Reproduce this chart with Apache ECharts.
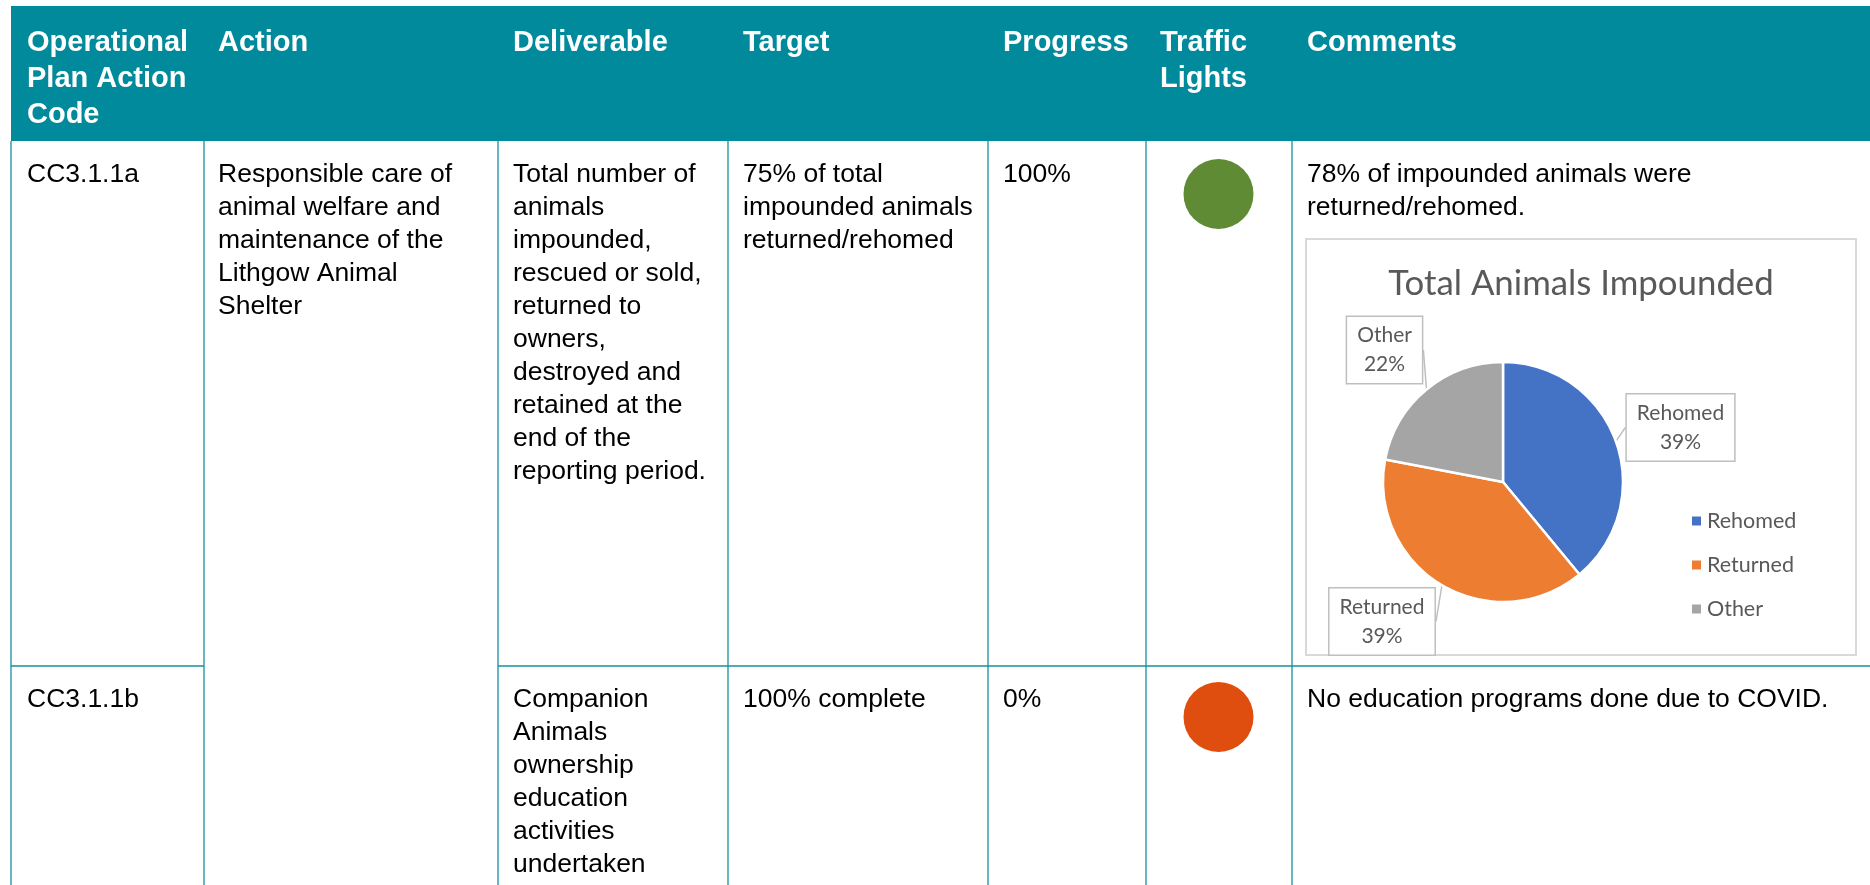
<!DOCTYPE html>
<html>
<head>
<meta charset="utf-8">
<script src="https://cdn.jsdelivr.net/npm/echarts@6/dist/echarts.min.js"></script>
<style>
  html, body { margin: 0; padding: 0; background: #ffffff; }
  #chart { width: 1870px; height: 885px; }
</style>
</head>
<body>
<div id="chart"></div>
<script>
// ---------- data ----------
const headers = ['Operational\nPlan Action\nCode', 'Action', 'Deliverable', 'Target', 'Progress', 'Traffic\nLights', 'Comments'];
const codes = ['CC3.1.1a', 'CC3.1.1b'];
const actions = ['Responsible care of\nanimal welfare and\nmaintenance of the\nLithgow Animal\nShelter'];
const deliverables = [
  'Total number of\nanimals\nimpounded,\nrescued or sold,\nreturned to\nowners,\ndestroyed and\nretained at the\nend of the\nreporting period.',
  'Companion\nAnimals\nownership\neducation\nactivities\nundertaken'
];
const targets = ['75% of total\nimpounded animals\nreturned/rehomed', '100% complete'];
const progress = ['100%', '0%'];
const lights = ['green', 'red'];
const comments = ['78% of impounded animals were\nreturned/rehomed.', 'No education programs done due to COVID.'];

const pieTitle = 'Total Animals Impounded';
const pieCategories = ['Rehomed', 'Returned', 'Other'];
const pieValues = [39, 39, 22];

// ---------- layout / style ----------
const colX = [11, 204, 498, 728, 988, 1146, 1292, 1870];
const textX = [27, 218, 513, 743, 1003, 1160, 1307];
const headTop = 6, headBottom = 141;
const rowTops = [141, 666];
const rowTextY = [158.5, 683.5];
const lightCY = [194, 717];
const bodyLH = 33;
const bodyFont = '26.5px "Liberation Sans", Arial, sans-serif';
const headFont = 'bold 29px "Liberation Sans", Arial, sans-serif';
const teal = '#008A9B';
const lineColor = '#13909F';
const lightColors = { green: '#5E8B34', red: '#DF4E0E' };
const pieColors = ['#4472C4', '#ED7D31', '#A5A5A5'];
const chartFont = 'Lato, "Open Sans", sans-serif';
const labelCenters = { Rehomed: [1680.5, 427.5], Returned: [1382, 621.5], Other: [1384.5, 350] };

const g = [];
// header band
g.push({ type: 'rect', z: 0, shape: { x: colX[0], y: headTop, width: 1870 - colX[0], height: headBottom - headTop }, style: { fill: teal } });
headers.forEach((h, i) => {
  g.push({ type: 'text', z: 5, style: { text: h, x: textX[i], y: 25.5, font: headFont, fill: '#ffffff', lineHeight: 35.8, textVerticalAlign: 'top' } });
});
// vertical lines
for (let i = 0; i < 7; i++) {
  g.push({ type: 'line', z: 1, shape: { x1: colX[i], y1: headBottom, x2: colX[i], y2: 885 }, style: { stroke: lineColor, lineWidth: 1.3 } });
}
// row separator (Action cell merged)
g.push({ type: 'line', z: 1, shape: { x1: colX[0], y1: rowTops[1], x2: colX[1], y2: rowTops[1] }, style: { stroke: lineColor, lineWidth: 1.6 } });
g.push({ type: 'line', z: 1, shape: { x1: colX[2], y1: rowTops[1], x2: 1870, y2: rowTops[1] }, style: { stroke: lineColor, lineWidth: 1.6 } });

function bodyText(t, x, y) {
  g.push({ type: 'text', z: 5, style: { text: t, x: x, y: y, font: bodyFont, fill: '#000000', lineHeight: bodyLH, textVerticalAlign: 'top' } });
}
codes.forEach((c, r) => bodyText(c, textX[0], rowTextY[r]));
actions.forEach((a, r) => bodyText(a, textX[1], rowTextY[r]));
deliverables.forEach((d, r) => bodyText(d, textX[2], rowTextY[r]));
targets.forEach((t, r) => bodyText(t, textX[3], rowTextY[r]));
progress.forEach((p, r) => bodyText(p, textX[4], rowTextY[r]));
comments.forEach((c, r) => bodyText(c, textX[6], rowTextY[r]));
lights.forEach((l, r) => {
  g.push({ type: 'circle', z: 5, shape: { cx: (colX[5] + colX[6]) / 2 - 0.5, cy: lightCY[r], r: 35 }, style: { fill: lightColors[l] } });
});

// chart frame and title
g.push({ type: 'rect', z: 1, shape: { x: 1306, y: 239, width: 550, height: 416 }, style: { fill: '#ffffff', stroke: '#D9D9D9', lineWidth: 2 } });
g.push({ type: 'text', z: 5, style: { text: pieTitle, x: 1581, y: 284, textAlign: 'center', textVerticalAlign: 'middle', font: '34.8px ' + chartFont, fill: '#595959' } });

const chart = echarts.init(document.getElementById('chart'), null, { renderer: 'canvas' });
chart.setOption({
  animation: false,
  backgroundColor: '#ffffff',
  color: pieColors,
  graphic: { elements: g },
  legend: {
    orient: 'vertical',
    left: 1685,
    top: 504,
    itemWidth: 11,
    itemHeight: 11,
    itemGap: 20,
    icon: 'rect',
    selectedMode: false,
    data: pieCategories,
    textStyle: { fontFamily: chartFont, fontSize: 21.5, color: '#595959', lineHeight: 24 }
  },
  series: [{
    type: 'pie',
    z: 3,
    center: [1503, 482],
    radius: 120,
    startAngle: 90,
    clockwise: true,
    percentPrecision: 0,
    avoidLabelOverlap: false,
    emphasis: { disabled: true },
    itemStyle: { borderColor: '#ffffff', borderWidth: 2.5 },
    label: {
      show: true,
      position: 'outside',
      formatter: '{b}\n{d}%',
      fontFamily: chartFont,
      fontSize: 21,
      lineHeight: 29,
      color: '#595959',
      backgroundColor: '#ffffff',
      borderColor: '#BFBFBF',
      borderWidth: 1.5,
      padding: [4, 10, 4, 10],
      align: 'center'
    },
    labelLine: { show: true, length: 4, length2: 0, smooth: false, lineStyle: { color: '#BFBFBF', width: 1.5 } },
    labelLayout: function (params) {
      const name = pieCategories[params.dataIndex];
      const p = labelCenters[name];
      return { x: p[0], y: p[1], align: 'center', verticalAlign: 'middle' };
    },
    data: pieCategories.map((n, i) => ({ name: n, value: pieValues[i] }))
  }]
});
</script>
</body>
</html>
